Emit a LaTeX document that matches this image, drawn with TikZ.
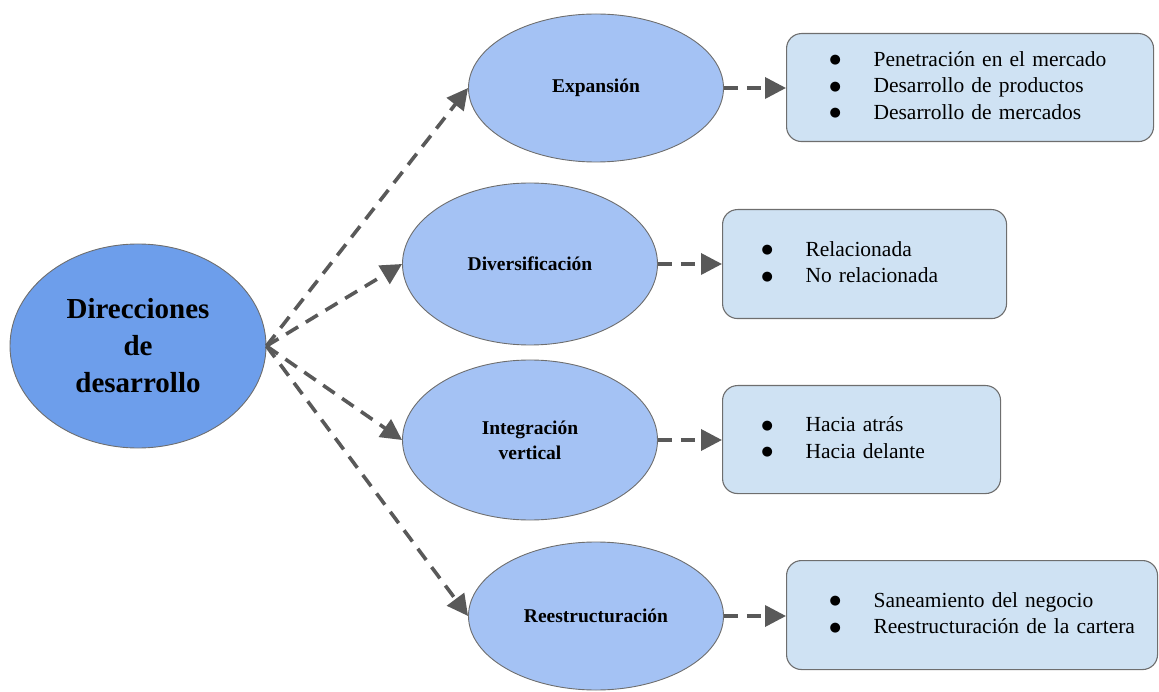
\documentclass[tikz,border=0pt]{standalone}
\usepackage{fontspec}
\setmainfont{Liberation Serif}
\newfontfamily\symbolfont{DejaVu Sans}
\usetikzlibrary{shapes.geometric,arrows.meta}
\definecolor{rootblue}{HTML}{6D9EEB}
\definecolor{branchblue}{HTML}{A4C2F4}
\definecolor{listblue}{HTML}{CFE2F3}
\definecolor{linkgray}{HTML}{595959}
\definecolor{rimgray}{HTML}{6E6E6E}
\newcommand\bulletitem[1]{\makebox[44pt][l]{\raisebox{2.5pt}{\symbolfont\fontsize{13}{13}\selectfont ●}}#1}
\tikzset{
  rootnode/.style={ellipse, draw=rimgray, line width=0.9pt, fill=rootblue, inner sep=0pt,
    minimum width=256pt, minimum height=204pt, align=center,
    font=\fontsize{29}{37}\selectfont\bfseries},
  branch/.style={ellipse, draw=rimgray, line width=0.9pt, fill=branchblue, inner sep=0pt,
    minimum width=255pt, align=center, font=\fontsize{19.5}{25}\selectfont\bfseries},
  listbox/.style={rectangle, rounded corners=15pt, draw=rimgray, line width=1.1pt, fill=listblue,
    inner xsep=0pt, inner ysep=0pt, anchor=north west, align=left,
    font=\fontsize{21.5}{26.5}\selectfont},
  link/.style={draw=linkgray, line width=3.6pt, dash pattern=on 14pt off 9pt,
    -{Triangle[length=21pt,width=21pt]}},
}
\begin{document}
\begin{tikzpicture}[x=1pt,y=-1pt]
  \useasboundingbox (0,0) rectangle (1159,692);

  % central idea
  \node[rootnode] (root) at (138,346) {Direcciones\\de\\desarrollo};

  % four strategic directions
  \node[branch, minimum height=148pt] (exp) at (596,88) {Expansión};
  \node[branch, minimum height=162pt] (div) at (530,264) {Diversificación};
  \node[branch, minimum height=160pt] (int) at (530,440) {Integración\\vertical};
  \node[branch, minimum height=148pt] (res) at (596,616) {Reestructuración};

  % option lists
  \node[listbox, minimum width=367pt, minimum height=108pt, text width=367pt] (lexp) at (786,33)
    {\hspace*{43pt}\begin{tabular}{@{}l@{}}\bulletitem{Penetración en el mercado}\\\bulletitem{Desarrollo de productos}\\\bulletitem{Desarrollo de mercados}\end{tabular}};
  \node[listbox, minimum width=284pt, minimum height=109pt, text width=284pt] (ldiv) at (722,209)
    {\hspace*{39pt}\begin{tabular}{@{}l@{}}\bulletitem{Relacionada}\\\bulletitem{No relacionada}\end{tabular}};
  \node[listbox, minimum width=278pt, minimum height=108pt, text width=278pt] (lint) at (722,385)
    {\hspace*{39pt}\begin{tabular}{@{}l@{}}\bulletitem{Hacia atrás}\\\bulletitem{Hacia delante}\end{tabular}};
  \node[listbox, minimum width=371pt, minimum height=109pt, text width=371pt] (lres) at (786,560)
    {\hspace*{43pt}\begin{tabular}{@{}l@{}}\bulletitem{Saneamiento del negocio}\\\bulletitem{Reestructuración de la cartera}\end{tabular}};

  % connectors from the centre
  \draw[link] (root.east) -- (exp.west);
  \draw[link] (root.east) -- (div.west);
  \draw[link] (root.east) -- (int.west);
  \draw[link] (root.east) -- (res.west);

  % connectors to the lists
  \draw[link] (exp.east) -- (exp.east -| lexp.west);
  \draw[link] (div.east) -- (div.east -| ldiv.west);
  \draw[link] (int.east) -- (int.east -| lint.west);
  \draw[link] (res.east) -- (res.east -| lres.west);
\end{tikzpicture}
\end{document}
